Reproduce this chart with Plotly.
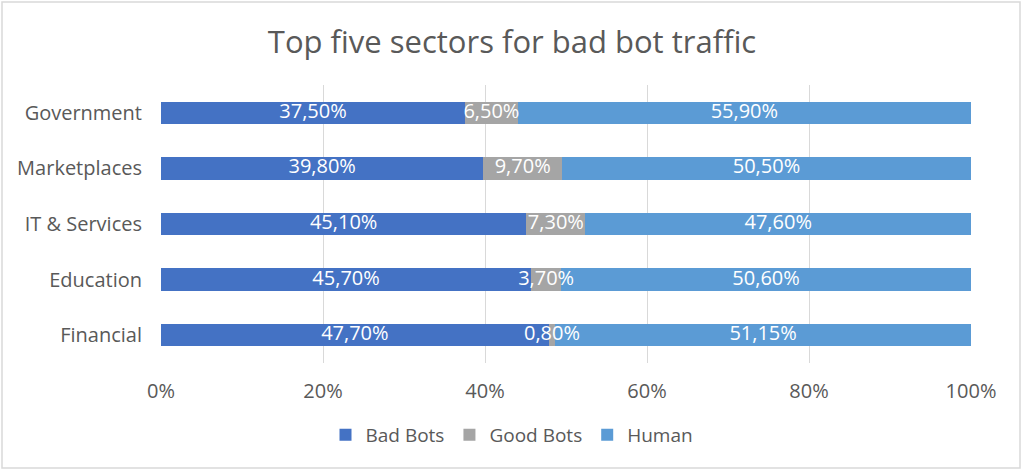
import plotly.graph_objects as go

categories = ["Financial", "Education", "IT & Services", "Marketplaces", "Government"]
bad_bots = [47.70, 45.70, 45.10, 39.80, 37.50]
good_bots = [0.80, 3.70, 7.30, 9.70, 6.50]
human = [51.15, 50.60, 47.60, 50.50, 55.90]
tick_vals = [0, 20, 40, 60, 80, 100]
tick_text = ["0%", "20%", "40%", "60%", "80%", "100%"]

FONT = "Open Sans"

def fmt(vals):
    return [f"{v:.2f}".replace(".", ",") + "%" for v in vals]

series = [
    ("Bad Bots", bad_bots, "#4472C4"),
    ("Good Bots", good_bots, "#A5A5A5"),
    ("Human", human, "#5B9BD5"),
]

totals = [a + b + c for a, b, c in zip(bad_bots, good_bots, human)]

fig = go.Figure()
for name, vals, color in series:
    fig.add_trace(go.Bar(
        y=categories, x=vals, name=name, orientation="h",
        marker=dict(color=color, line=dict(width=0)),
        width=0.4, hoverinfo="x+y+name",
    ))

# data labels centred in each segment (positions derived from the data)
starts = [0.0] * len(categories)
for name, vals, color in series:
    centers = [(s + v / 2) / t * 100 for s, v, t in zip(starts, vals, totals)]
    fig.add_trace(go.Scatter(
        x=centers, y=categories, mode="text", text=fmt(vals),
        textposition="middle center",
        textfont=dict(color="white", size=20, family=FONT),
        showlegend=False, hoverinfo="skip", cliponaxis=False,
    ))
    starts = [s + v for s, v in zip(starts, vals)]

L, R, T, B = 161, 53, 85, 109
W, H = 1024, 472
pw, ph = W - L - R, H - T - B

fig.update_layout(
    width=W, height=H,
    barmode="stack", barnorm="percent",
    margin=dict(l=L, r=R, t=T, b=B, autoexpand=False),
    paper_bgcolor="white", plot_bgcolor="white",
    font=dict(family=FONT, color="#595959", size=18),
    title=dict(text="Top five sectors for bad bot traffic", x=0.5, xanchor="center",
               xref="container", y=1 - 42 / H, yanchor="middle",
               font=dict(size=31, color="#595959", family=FONT)),
    xaxis=dict(range=[0, 100], tickvals=tick_vals, ticktext=tick_text,
               showgrid=True, gridcolor="#D9D9D9", gridwidth=1,
               zeroline=False, showline=False, ticks="",
               tickfont=dict(size=20, color="#595959"), ticklabelstandoff=14),
    yaxis=dict(showgrid=False, ticks="", showline=False,
               tickfont=dict(size=20, color="#595959"), ticklabelstandoff=18),
    legend=dict(orientation="h", x=(512 - L) / pw, xanchor="center", y=(364 - 436) / ph,
                yanchor="middle", font=dict(size=19, color="#595959"),
                traceorder="normal", itemwidth=30),
    showlegend=True,
    shapes=[dict(type="rect", xref="paper", yref="paper",
                 x0=(2 - L) / pw, x1=(1020 - L) / pw,
                 y0=(H - B - 468) / ph, y1=(H - B - 2) / ph,
                 line=dict(color="#D9D9D9", width=1.5), fillcolor="rgba(0,0,0,0)",
                 layer="below")],
)

fig.write_html("out.html", config={"displayModeBar": False},
               post_script="document.body.style.margin='0';")
